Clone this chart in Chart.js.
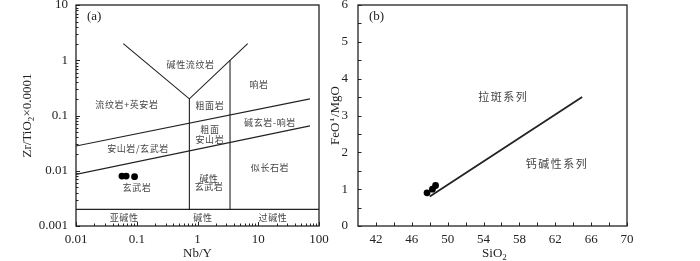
<!DOCTYPE html>
<html>
<head>
<meta charset="utf-8">
<script src="https://cdn.jsdelivr.net/npm/chart.js@4.4.0/dist/chart.umd.min.js"></script>
<style>
    body { margin: 0; background: #fff; width: 700px; height: 261px; overflow: hidden; position: relative; }
    #boxA { position: absolute; left: 0; top: 0; }
    #boxB { position: absolute; left: 330px; top: 0; }
</style>
</head>
<body>
<div id="boxA"><canvas id="chartA" width="330" height="261"></canvas></div>
<div id="boxB"><canvas id="chartB" width="370" height="261"></canvas></div>
<script>
// ---- (a) Nb/Y vs Zr/TiO2*0.0001 ----
const sampleNbY = [0.057, 0.067, 0.092];
const sampleZrTi = [0.008, 0.008, 0.0078];

// field boundaries, [Nb/Y, Zr/TiO2]
const bndV = [[0.06, 2], [0.735, 0.2], [6.7, 2]];
const bndLeftVert = [[0.735, 0.2], [0.735, 0.002]];
const bndRightVert = [[3.43, 1], [3.43, 0.002]];
const bndBase = [[0.01, 0.002], [100, 0.002]];
const bndUpper = [[0.01, 0.028], [71, 0.2]];
const bndLower = [[0.01, 0.0086], [71, 0.065]];

const aTicksX = [0.01, 0.1, 1, 10, 100];
const aTicksY = [0.001, 0.01, 0.1, 1, 10];

const aFields = [
    ["碱性流纹岩", 0.77, 0.85],
    ["响岩", 10.3, 0.37],
    ["流纹岩+英安岩", 0.069, 0.155],
    ["粗面岩", 1.6, 0.149],
    ["碱玄岩-响岩", 15.6, 0.073],
    ["粗面", 1.6, 0.055],
    ["安山岩", 1.6, 0.036],
    ["安山岩/玄武岩", 0.105, 0.025],
    ["似长石岩", 15.6, 0.0114],
    ["碱性", 1.55, 0.0071],
    ["玄武岩", 1.55, 0.0051],
    ["玄武岩", 0.101, 0.0049],
    ["亚碱性", 0.062, 0.00144],
    ["碱性", 1.23, 0.00144],
    ["过碱性", 17.5, 0.00144]
];

// ---- (b) SiO2 vs FeOT/MgO ----
const sampleSiO2 = [47.7, 48.3, 48.65];
const sampleFeMg = [0.9, 1.0, 1.1];
const seriesLine = [[48, 0.8], [65, 3.5]];

const bTicksX = [42, 46, 50, 54, 58, 62, 66, 70];
const bTicksY = [0, 1, 2, 3, 4, 5, 6];

const bFields = [
    ["拉斑系列", 56.2, 3.5],
    ["钙碱性系列", 62.2, 1.68]
];

const ink = "#222";
const serif = "Liberation Serif";

function pts(arr) {
    return arr.map(([x, y]) => ({x, y}));
}

function boundary(arr, width) {
    return {
        data: pts(arr), showLine: true, pointRadius: 0,
        borderColor: ink, borderWidth: width
    };
}

function samples(xs, ys) {
    return {
        data: xs.map((x, i) => ({x, y: ys[i]})),
        pointRadius: 3.4, pointBackgroundColor: "#000", pointBorderWidth: 0
    };
}

// log minor ticks: 2..9 inside each decade
function logMinor(lo, hi) {
    let out = [];
    for (let d = lo; d < hi; d *= 10)
        for (let k = 2; k <= 9; k++) out.push(d * k);
    return out;
}

// draws text left to right, parts = [text, 0 normal / 1 sub / 2 sup]
function drawParts(ctx, parts, cx, cy, size, rotate) {
    ctx.save();
    ctx.translate(cx, cy);
    if (rotate) ctx.rotate(-Math.PI / 2);
    ctx.textBaseline = "middle";
    ctx.textAlign = "left";
    let w = 0;
    parts.forEach(([t, k]) => {
        ctx.font = (k ? size * 0.7 : size) + "px " + serif;
        w += ctx.measureText(t).width;
    });
    let x = -w / 2;
    parts.forEach(([t, k]) => {
        ctx.font = (k ? size * 0.7 : size) + "px " + serif;
        let dy = k === 1 ? size * 0.3 : (k === 2 ? -size * 0.35 : 0);
        ctx.fillText(t, x, dy);
        x += ctx.measureText(t).width;
    });
    ctx.restore();
}

function framePlugin(cfg) {
    return {
        id: "frame",
        afterDatasetsDraw(chart) {
            const {ctx, chartArea: a, scales: {x, y}} = chart;
            ctx.save();
            ctx.strokeStyle = ink;
            ctx.lineWidth = 1;
            ctx.beginPath();
            cfg.xTicks.forEach(([v, len]) => {
                const px = Math.round(x.getPixelForValue(v)) + 0.5;
                ctx.moveTo(px, a.bottom);
                ctx.lineTo(px, a.bottom - len);
            });
            cfg.yTicks.forEach(([v, len]) => {
                const py = Math.round(y.getPixelForValue(v)) + 0.5;
                ctx.moveTo(a.left, py);
                ctx.lineTo(a.left + len, py);
            });
            ctx.stroke();
            ctx.lineWidth = 1.3;
            ctx.strokeRect(a.left, a.top, a.right - a.left, a.bottom - a.top);

            ctx.fillStyle = "#444";
            ctx.textAlign = "center";
            ctx.textBaseline = "middle";
            ctx.font = cfg.fieldFont + 'px "Noto Sans CJK SC"';
            ctx.letterSpacing = cfg.spacing + "px";
            cfg.fields.forEach(([t, vx, vy]) => {
                ctx.fillText(t, x.getPixelForValue(vx), y.getPixelForValue(vy));
            });
            ctx.letterSpacing = "0px";

            ctx.fillStyle = ink;
            ctx.font = "13px " + serif;
            ctx.textAlign = "left";
            ctx.fillText(cfg.tag, a.left + 11, a.top + 12);

            drawParts(ctx, cfg.xTitle, (a.left + a.right) / 2 + cfg.xTitleShift, 254, 13, false);
            drawParts(ctx, cfg.yTitle, cfg.yTitleX, (a.top + a.bottom) / 2, 13, true);
            ctx.restore();
        }
    };
}

function axis(type, min, max, list, size, pad) {
    return {
        type: type, min: min, max: max,
        afterBuildTicks: s => { s.ticks = list.map(v => ({value: v})); },
        afterFit: s => {
            if (s.isHorizontal()) s.height = size; else s.width = size;
            s.paddingTop = s.paddingBottom = s.paddingLeft = s.paddingRight = 0;
        },
        grid: {display: false, drawTicks: false},
        border: {display: false},
        ticks: {
            padding: pad, color: ink, autoSkip: false, maxRotation: 0,
            font: {family: serif, size: 13},
            callback: v => String(v)
        }
    };
}

new Chart(document.getElementById("chartA"), {
    type: "scatter",
    data: {
        datasets: [
            boundary(bndV, 1.1),
            boundary(bndLeftVert, 1.1),
            boundary(bndRightVert, 1.1),
            boundary(bndBase, 1.1),
            boundary(bndUpper, 1.1),
            boundary(bndLower, 1.1),
            samples(sampleNbY, sampleZrTi)
        ]
    },
    options: {
        responsive: false,
        animation: false,
        layout: {padding: {left: 0, right: 11, top: 5, bottom: 0}},
        plugins: {legend: {display: false}, tooltip: {enabled: false}},
        scales: {
            x: axis("logarithmic", 0.01, 100, aTicksX, 35, 6),
            y: axis("logarithmic", 0.001, 10, aTicksY, 76, 8)
        }
    },
    plugins: [framePlugin({
        xTicks: aTicksX.map(v => [v, 4]).concat(logMinor(0.01, 100).map(v => [v, 2.5])),
        yTicks: aTicksY.map(v => [v, 4]).concat(logMinor(0.001, 10).map(v => [v, 2.5])),
        fields: aFields, fieldFont: 9, spacing: 0.6,
        tag: "(a)",
        xTitle: [["Nb/Y", 0]], xTitleShift: 0,
        yTitle: [["Zr/TiO", 0], ["2", 1], ["×0.0001", 0]], yTitleX: 28
    })]
});

let bMinorX = [], bMinorY = [];
for (let v = 44; v < 70; v += 4) bMinorX.push(v);
for (let v = 0.5; v < 6; v += 1) bMinorY.push(v);

new Chart(document.getElementById("chartB"), {
    type: "scatter",
    data: {
        datasets: [
            boundary(seriesLine, 1.8),
            samples(sampleSiO2, sampleFeMg)
        ]
    },
    options: {
        responsive: false,
        animation: false,
        layout: {padding: {left: 0, right: 73, top: 5, bottom: 0}},
        plugins: {legend: {display: false}, tooltip: {enabled: false}},
        scales: {
            x: axis("linear", 40, 70, bTicksX, 35, 6),
            y: axis("linear", 0, 6, bTicksY, 28, 10)
        }
    },
    plugins: [framePlugin({
        xTicks: bTicksX.concat(bMinorX).map(v => [v, 3.5]),
        yTicks: bTicksY.concat(bMinorY).map(v => [v, 3.5]),
        fields: bFields, fieldFont: 11, spacing: 1.5,
        tag: "(b)",
        xTitle: [["SiO", 0], ["2", 1]], xTitleShift: 2,
        yTitle: [["FeO", 0], ["T", 2], ["/MgO", 0]], yTitleX: 6
    })]
});
</script>
</body>
</html>
